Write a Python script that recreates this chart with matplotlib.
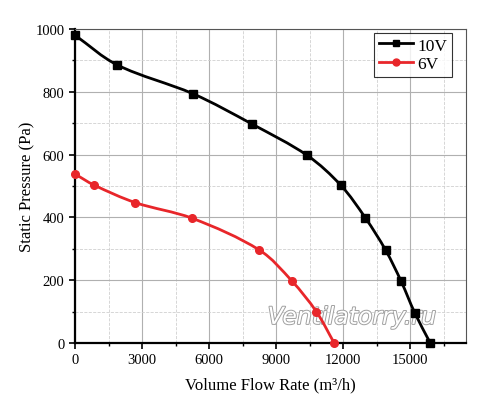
import numpy as np
import matplotlib
matplotlib.use("Agg")
import matplotlib.pyplot as plt
from matplotlib.path import Path
from matplotlib.patches import PathPatch
from matplotlib.ticker import MultipleLocator
import matplotlib.patheffects as pe

plt.rcParams['font.family'] = ['Liberation Serif', 'DejaVu Serif']

# data
flow_10v = [0, 1900, 5300, 7900, 10400, 11900, 13000, 13900, 14600, 15200, 15900]
press_10v = [980, 885, 793, 698, 597, 502, 398, 296, 196, 97, 0]
flow_6v = [0, 850, 2700, 5250, 8250, 9700, 10800, 11600]
press_6v = [538, 503, 447, 397, 296, 198, 100, 0]

XMAX, YMAX = 17500, 1000


def smooth_path(x, y):
    # smooth bezier line through the points (tangent length = chord/3)
    p = np.column_stack([np.array(x) / XMAX, np.array(y) / YMAX])
    n = len(p)
    tang = []
    for i in range(n):
        a = p[max(i - 1, 0)]
        b = p[min(i + 1, n - 1)]
        d = b - a
        tang.append(d / np.hypot(*d))
    verts = [p[0]]
    codes = [Path.MOVETO]
    for i in range(n - 1):
        L = np.hypot(*(p[i + 1] - p[i])) / 3.0
        verts += [p[i] + tang[i] * L, p[i + 1] - tang[i + 1] * L, p[i + 1]]
        codes += [Path.CURVE4] * 3
    verts = np.array(verts) * [XMAX, YMAX]
    return Path(verts, codes)


fig = plt.figure(figsize=(5, 4.1), dpi=100)
ax = fig.add_axes([0.15, 0.161, 0.782, 0.766])

ax.set_xlim(0, XMAX)
ax.set_ylim(0, YMAX)
ax.xaxis.set_major_locator(MultipleLocator(3000))
ax.xaxis.set_minor_locator(MultipleLocator(1500))
ax.yaxis.set_major_locator(MultipleLocator(200))
ax.yaxis.set_minor_locator(MultipleLocator(100))

ax.grid(which='major', color='#b0b0b0', lw=0.8, ls='-')
ax.grid(which='minor', color='#d0d0d0', lw=0.6, ls='--')
ax.set_axisbelow(True)

for s in ['left', 'bottom']:
    ax.spines[s].set_linewidth(1.6)
    ax.spines[s].set_color('black')
for s in ['top', 'right']:
    ax.spines[s].set_linewidth(0.8)
    ax.spines[s].set_color('#555555')

ax.tick_params(which='major', direction='out', length=4, width=1.2, labelsize=10.5, colors='black')
ax.tick_params(which='minor', direction='out', length=2.5, width=1.0)
ax.tick_params(top=False, right=False, which='both')

ax.text(12400, 83, 'Ventilatorry.ru', fontsize=17, style='italic', family='DejaVu Sans',
        color='white', ha='center', va='center', zorder=2.5,
        path_effects=[pe.Stroke(linewidth=1.4, foreground='#a0a0a0'), pe.Normal()])

for fx, py, col, mk, ms, lab in [(flow_10v, press_10v, 'black', 's', 5.5, '10V'),
                                  (flow_6v, press_6v, '#e8262a', 'o', 5.5, '6V')]:
    ax.add_patch(PathPatch(smooth_path(fx, py), fill=False, edgecolor=col, lw=2.0, zorder=3))
    ax.plot(fx, py, ls='none', marker=mk, ms=ms, color=col, zorder=4, clip_on=False)
    ax.plot([], [], color=col, lw=2.0, marker=mk, ms=5, label=lab)

leg = ax.legend(loc='upper right', bbox_to_anchor=(0.964, 0.987), fontsize=12.5,
                frameon=True, fancybox=False, edgecolor='black', handlelength=2.0,
                handletextpad=0.25, borderpad=0.25, labelspacing=0.15, borderaxespad=0)
leg.get_frame().set_linewidth(0.8)

ax.set_xlabel('Volume Flow Rate (m³/h)', fontsize=12, labelpad=7)
ax.set_ylabel('Static Pressure (Pa)', fontsize=12, labelpad=0)

fig.savefig('out.png', dpi=100, facecolor='white')
